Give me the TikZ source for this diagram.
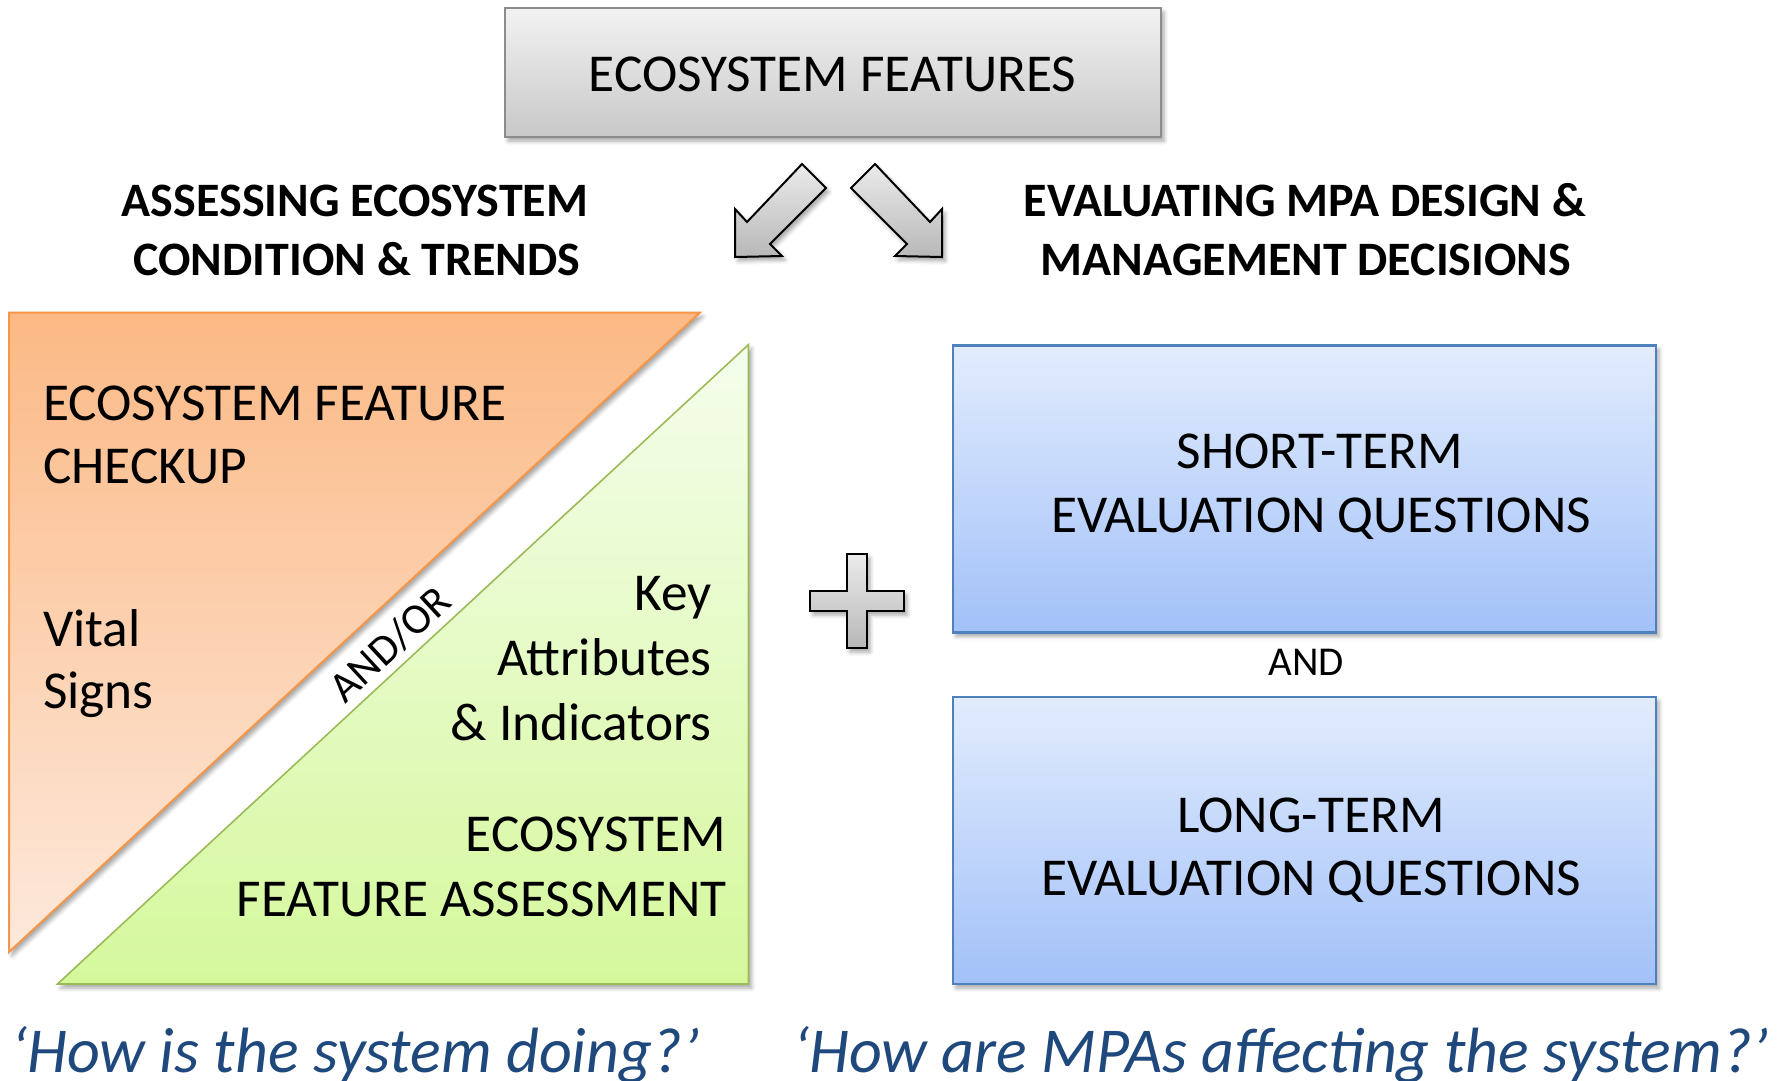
\documentclass[tikz,border=0pt]{standalone}
\usepackage{fontspec}
\setmainfont{Carlito}
\usetikzlibrary{shadows.blur}
\definecolor{boxtop}{HTML}{F2F2F2}
\definecolor{boxbot}{HTML}{C8C8C8}
\definecolor{boxline}{HTML}{8C8C8C}
\definecolor{orgtop}{HTML}{FBB985}
\definecolor{orgbot}{HTML}{FDE9DC}
\definecolor{orgline}{HTML}{F79646}
\definecolor{grntop}{HTML}{F5FDEC}
\definecolor{grnbot}{HTML}{D5F89C}
\definecolor{grnline}{HTML}{9BBB59}
\definecolor{blutop}{HTML}{E2ECFD}
\definecolor{blubot}{HTML}{A2C1F8}
\definecolor{bluline}{HTML}{4F81BD}
\definecolor{qblue}{HTML}{1F497D}
\begin{document}
\begin{tikzpicture}[x=1pt,y=-1pt,
  shad/.style={blur shadow={shadow xshift=3pt,shadow yshift=-4pt,shadow blur radius=4pt,shadow opacity=35}},
  graybox/.style={shad,draw=boxline,line width=2pt,top color=boxtop,bottom color=boxbot,rectangle,inner sep=0pt},
  bluebox/.style={shad,draw=bluline,line width=2.5pt,top color=blutop,bottom color=blubot,rectangle,inner sep=0pt,minimum width=703pt,minimum height=287pt},
  orangetri/.style={shad,draw=orgline,line width=2pt,top color=orgtop,bottom color=orgbot,line join=miter},
  greentri/.style={shad,draw=grnline,line width=1.6pt,top color=grntop,bottom color=grnbot,line join=miter},
  grayshape/.style={shad,draw=black,line width=2pt,top color=white!92!black,bottom color=white!72!black,line join=miter},
  bigtext/.style={inner sep=0pt,font=\fontsize{53.3}{64}\selectfont},
  headtext/.style={inner sep=0pt,font=\fontsize{48}{54}\selectfont\bfseries},
  smalltext/.style={inner sep=0pt,font=\fontsize{41}{48}\selectfont},
  quotetext/.style={inner sep=0pt,text=qblue,font=\fontsize{64}{72}\selectfont\itshape}
]
\useasboundingbox (0,0) rectangle (1785,1080);

% top box
\node[graybox,minimum width=656pt,minimum height=129pt] (top) at (833,72.5) {};
\node[bigtext,anchor=base] (toptext) at (832.5,91) {ECOSYSTEM FEATURES};

% arrows
\draw[grayshape] (802,164) -- (826,188) -- (770,244) -- (782,256) -- (735,257) -- (735,209) -- (747,222) -- cycle;
\draw[grayshape] (875,164) -- (851,188) -- (907,244) -- (895,256) -- (942,257) -- (942,209) -- (930,222) -- cycle;

% headings
\node[headtext,anchor=base] (hl1) at (355,216) {ASSESSING ECOSYSTEM};
\node[headtext,anchor=base] (hl2) at (357,275) {CONDITION \& TRENDS};
\node[headtext,anchor=base] (hr1) at (1305,216) {EVALUATING MPA DESIGN \&};
\node[headtext,anchor=base] (hr2) at (1306,275) {MANAGEMENT DECISIONS};

% triangles
\draw[orangetri] (9,312.5) -- (700,312.5) -- (9,952) -- cycle;
\draw[greentri] (748.5,344.6) -- (748.5,984) -- (57.5,984) -- cycle;

\node[bigtext,anchor=base west] (ef1) at (43,420.5) {ECOSYSTEM FEATURE};
\node[bigtext,anchor=base west] (ef2) at (43,483.5) {CHECKUP};
\node[bigtext,anchor=base west] (vs1) at (43,646) {Vital};
\node[bigtext,anchor=base west] (vs2) at (43,708.5) {Signs};

\node[bigtext,anchor=base east] (ka1) at (712,610) {Key};
\node[bigtext,anchor=base east] (ka2) at (712,675) {Attributes};
\node[bigtext,anchor=base east] (ka3) at (712,740) {\& Indicators};
\node[bigtext,anchor=base east] (fa1) at (726,851) {ECOSYSTEM};
\node[bigtext,anchor=base east] (fa2) at (727,916) {FEATURE ASSESSMENT};

\node[smalltext,font=\fontsize{43}{48}\selectfont,rotate=42.78] (andor) at (390,644) {AND/OR};

% plus
\draw[grayshape] (847,554) -- (867,554) -- (867,591) -- (904,591) -- (904,611) -- (867,611) -- (867,648) -- (847,648) -- (847,611) -- (810,611) -- (810,591) -- (847,591) -- cycle;

% blue boxes
\node[bluebox] (short) at (1304.5,489) {};
\node[bluebox] (long) at (1304.5,840.5) {};
\node[bigtext,anchor=base] (st1) at (1320,468) {SHORT-TERM};
\node[bigtext,anchor=base] (st2) at (1321,532) {EVALUATION QUESTIONS};
\node[smalltext,anchor=base] (and) at (1306,675) {AND};
\node[bigtext,anchor=base] (lt1) at (1311,832) {LONG-TERM};
\node[bigtext,anchor=base] (lt2) at (1311,895) {EVALUATION QUESTIONS};

% questions
\node[quotetext,anchor=base west] (q1) at (11,1072) {‘How is the system doing?’};
\node[quotetext,anchor=base west] (q2) at (793,1072) {‘How are MPAs affecting the system?’};
\end{tikzpicture}
\end{document}
